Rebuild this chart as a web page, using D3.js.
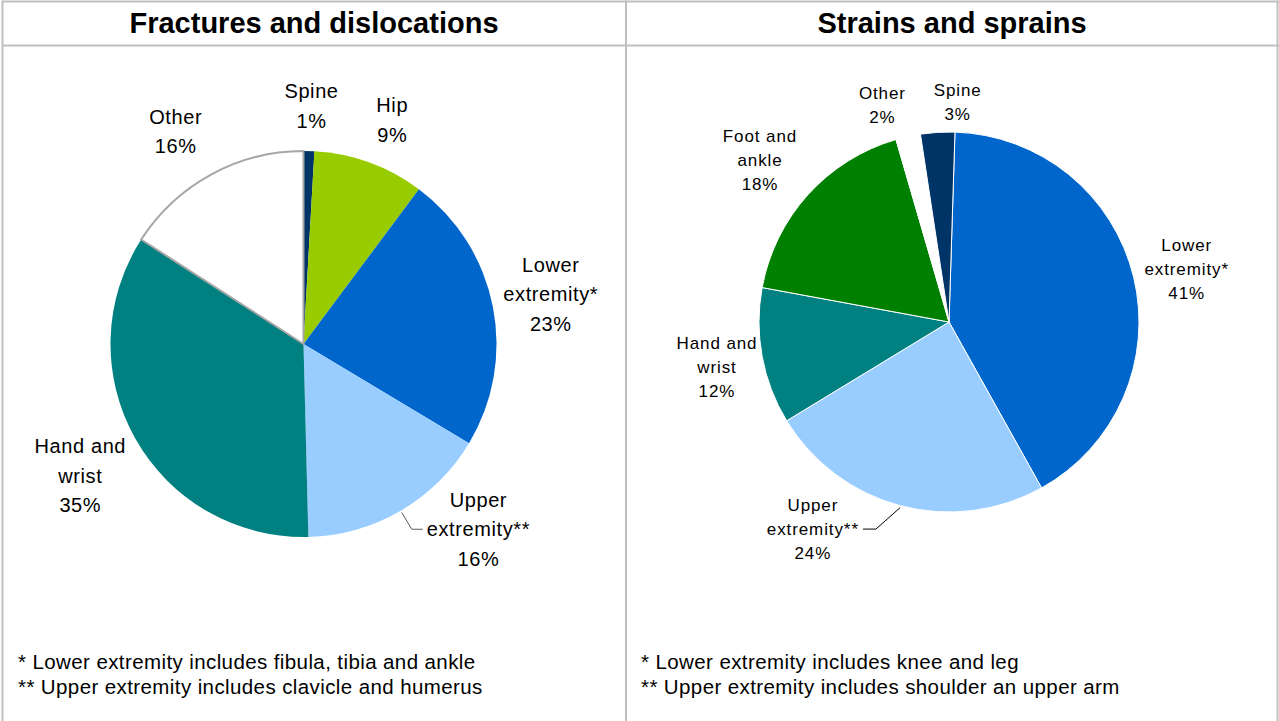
<!DOCTYPE html>
<html><head><meta charset="utf-8">
<script src="https://cdn.jsdelivr.net/npm/d3@7"></script>
<style>
html,body{margin:0;padding:0;background:#fff;}
svg{display:block;font-family:"Liberation Sans",Arial,sans-serif;}
</style></head>
<body>
<svg id="chart" width="1279" height="721"></svg>
<script>
// ---------- DATA ----------
const fracturesCategories = ["Spine", "Hip", "Lower extremity*", "Upper extremity**", "Hand and wrist", "Other"];
const fracturesLabelLines = [["Spine"], ["Hip"], ["Lower", "extremity*"], ["Upper", "extremity**"], ["Hand and", "wrist"], ["Other"]];
const fracturesValues = [0.9, 9.3, 23.4, 16.0, 34.5, 15.9];

const strainsCategories = ["Lower extremity*", "Upper extremity**", "Hand and wrist", "Foot and ankle", "Other", "Spine"];
const strainsLabelLines = [["Lower", "extremity*"], ["Upper", "extremity**"], ["Hand and", "wrist"], ["Foot and", "ankle"], ["Other"], ["Spine"]];
const strainsValues = [41.4, 24.4, 11.6, 17.6, 2.1, 2.9];

const titles = ["Fractures and dislocations", "Strains and sprains"];
const fracturesNotes = ["* Lower extremity includes fibula, tibia and ankle", "** Upper extremity includes clavicle and humerus"];
const strainsNotes = ["* Lower extremity includes knee and leg", "** Upper extremity includes shoulder an upper arm"];

// ---------- STYLE / LAYOUT ----------
const colorByCat = {
  "Spine": "#003366", "Hip": "#99cc00", "Lower extremity*": "#0066cc",
  "Upper extremity**": "#99ccff", "Hand and wrist": "#008080",
  "Foot and ankle": "#008000", "Other": "#ffffff"
};

const svg = d3.select("#chart");
const gridColor = "#c0c0c0";

// frame
const frame = svg.append("g").attr("stroke", gridColor).attr("stroke-width", 2).attr("fill", "none");
frame.append("line").attr("x1", 2).attr("x2", 1279).attr("y1", 1.5).attr("y2", 1.5);
frame.append("line").attr("x1", 2).attr("x2", 1279).attr("y1", 45.5).attr("y2", 45.5);
frame.append("line").attr("x1", 2.5).attr("x2", 2.5).attr("y1", 0.5).attr("y2", 721);
frame.append("line").attr("x1", 626).attr("x2", 626).attr("y1", 0.5).attr("y2", 721);
frame.append("line").attr("x1", 1277.5).attr("x2", 1277.5).attr("y1", 0.5).attr("y2", 721);

// titles
svg.append("text").attr("x", 314).attr("y", 33).attr("text-anchor", "middle")
  .attr("font-size", 29).attr("font-weight", "bold").attr("fill", "#000").text(titles[0]);
svg.append("text").attr("x", 952).attr("y", 33).attr("text-anchor", "middle")
  .attr("font-size", 29).attr("font-weight", "bold").attr("fill", "#000").text(titles[1]);

function drawPie(cfg) {
  const g = svg.append("g").attr("transform", `translate(${cfg.cx},${cfg.cy})`);
  const pie = d3.pie().sort(null).value(d => d.value)
    .startAngle(cfg.rot).endAngle(cfg.rot + 2 * Math.PI);
  const data = cfg.categories.map((c, i) => ({cat: c, value: cfg.values[i], lines: cfg.lines[i], i}));
  const arcs = pie(data);
  const arc = d3.arc().innerRadius(0).outerRadius(cfg.r);

  g.selectAll("path.slice").data(arcs).join("path")
    .attr("class", "slice")
    .attr("d", arc)
    .attr("fill", d => colorByCat[d.data.cat])
    .attr("stroke", cfg.sliceStroke)
    .attr("stroke-width", cfg.sliceStrokeWidth)
    .attr("stroke-linejoin", "round");

  if (cfg.outlineOther) {
    const other = arcs.find(d => d.data.cat === "Other");
    g.append("path").attr("d", arc(other)).attr("fill", "none")
      .attr("stroke", "#a6a6a6").attr("stroke-width", 2);
  }

  const fs = cfg.fontSize, lh = cfg.lineHeight;
  arcs.forEach((d, k) => {
    const mid = (d.startAngle + d.endAngle) / 2;
    const nudge = cfg.nudges[k];
    const x = Math.sin(mid) * cfg.labelR + nudge[0];
    const y = -Math.cos(mid) * cfg.labelR + nudge[1];
    const lines = d.data.lines.concat([d3.format(".0f")(d.data.value) + "%"]);
    const n = lines.length;
    const t = g.append("text").attr("text-anchor", "middle").attr("font-size", fs)
      .attr("letter-spacing", cfg.letterSpacing).attr("fill", "#000");
    lines.forEach((ln, j) => {
      t.append("tspan").attr("x", x).attr("y", y + (j - (n - 1) / 2) * lh + fs * 0.35).text(ln);
    });
    if (cfg.leader === k) {
      const midLineW = t.node().querySelectorAll("tspan")[Math.floor((n - 1) / 2)].getComputedTextLength();
      const sx = Math.sin(mid + cfg.leaderAngle) * (cfg.r + 2), sy = -Math.cos(mid + cfg.leaderAngle) * (cfg.r + 2);
      const ly = y + (Math.floor((n - 1) / 2) - (n - 1) / 2) * lh;
      const side = x > sx ? -1 : 1;
      const ex = x + side * (midLineW / 2 + 4);
      const bx = ex + side * cfg.leaderTail;
      g.append("polyline").attr("points", `${sx},${sy} ${bx},${ly} ${ex},${ly}`)
        .attr("fill", "none").attr("stroke", cfg.leaderColor).attr("stroke-width", 1);
    }
  });
}

drawPie({
  cx: 303.5, cy: 344, r: 193, rot: 0,
  categories: fracturesCategories, values: fracturesValues, lines: fracturesLabelLines,
  sliceStroke: "none", sliceStrokeWidth: 0, outlineOther: true,
  labelR: 248, fontSize: 20, lineHeight: 29.5, letterSpacing: 0.6,
  nudges: [[1, 10], [4, 9], [4, -2], [50, -29], [-7, 10], [-9, 5]],
  leader: 3, leaderAngle: 0, leaderTail: 11, leaderColor: "#595959"
});

drawPie({
  cx: 949, cy: 322, r: 190, rot: 1.8 * Math.PI / 180,
  categories: strainsCategories, values: strainsValues, lines: strainsLabelLines,
  sliceStroke: "#ffffff", sliceStrokeWidth: 1, outlineOther: false,
  labelR: 240, fontSize: 17, lineHeight: 24, letterSpacing: 0.9,
  nudges: [[4.5, 4], [-75, -25], [4, 2], [-11, -1], [-15, 17], [23, 20]],
  leader: 1, leaderAngle: 0, leaderTail: 13, leaderColor: "#000000"
});

// footnotes
function notes(arr, x) {
  const t = svg.append("text").attr("font-size", 20.5).attr("letter-spacing", 0.4).attr("fill", "#000");
  arr.forEach((s, j) => t.append("tspan").attr("x", x).attr("y", 669 + j * 24.5).text(s));
}
notes(fracturesNotes, 18);
notes(strainsNotes, 641);
</script>
</body></html>
